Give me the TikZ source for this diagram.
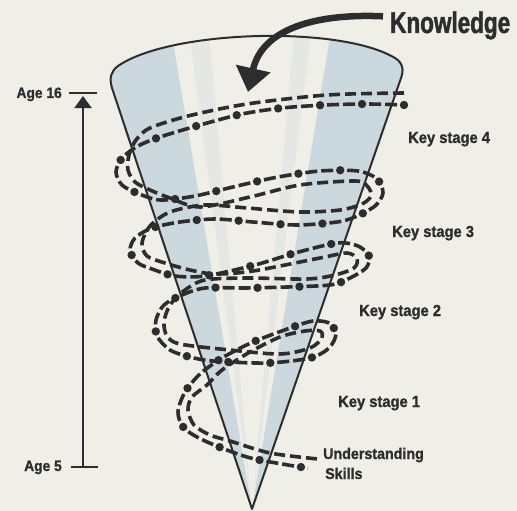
\documentclass[tikz,border=0pt]{standalone}
\usepackage{fontspec}
\newfontfamily\labfont{Liberation Sans Bold}[FakeStretch=0.92,FakeBold=1.2]
\newfontfamily\knowfont{Liberation Sans Bold}[FakeStretch=0.75,FakeBold=1.5]
\usetikzlibrary{arrows.meta}

\definecolor{paper}{RGB}{239,239,232}
\definecolor{ink}{RGB}{45,45,45}
\definecolor{tint}{RGB}{203,216,221}
\definecolor{faint}{RGB}{229,231,228}

\begin{document}
\begin{tikzpicture}[x=1pt,y=-1pt,>={Triangle[width=17pt,length=12pt]},line join=round]
  \tikzstyle{lab}=[inner sep=0pt,text=ink,font=\labfont\fontsize{16}{18}\selectfont]
  \tikzstyle{dashline}=[draw=ink,line width=3.6pt,dash pattern=on 11pt off 5pt]
  \tikzstyle{dotline}=[draw=ink,line width=3.6pt,dash pattern=on 12pt off 4pt on 12pt off 14pt,dash phase=35pt,
    postaction={draw=ink,line width=8.4pt,line cap=round,dash pattern=on 0pt off 42pt,dash phase=0pt}]
\useasboundingbox (0,0) rectangle (517,511);
\fill[paper] (0,0) rectangle (517,511);
% cone with its tinted bands
\begin{scope}
  \clip (252,509) -- (112,88) .. controls (109,78) and (111,71) .. (118,66)
    .. controls (170,30) and (340,25) .. (395,58) .. controls (403,63) and (404,70) .. (401,78) -- cycle;
  \fill[tint] (252,509) -- (166,0) -- (60,0) -- cycle;
  \fill[tint] (252,509) -- (336,0) -- (450,0) -- cycle;
  \fill[faint] (252,509) -- (185,0) -- (206,0) -- cycle;
  \fill[faint] (252,509) -- (297,0) -- (315,0) -- cycle;
\end{scope}
\draw[ink,line width=2pt] (252,509) -- (112,88) .. controls (109,78) and (111,71) .. (118,66)
    .. controls (170,30) and (340,25) .. (395,58) .. controls (403,63) and (404,70) .. (401,78) -- cycle;
% spiral ribbon
\draw[dotline] plot[smooth] coordinates {(404,105) (367,104) (325,105) (282,108) (242,114) (200,125) (160,137)
  (138,146) (122,158) (116,172) (122,185) (137,193)
  (160,200) (195,196) (237,186) (278,177) (320,171) (358,171)
  (377,179) (383,193) (375,206) (355,217)
  (337,222) (297,225) (253,222) (215,219)
  (180,222) (152,228) (135,238) (130,251) (138,263) (152,269)
  (175,276) (205,276) (255,265) (295,253) (337,243) (358,246)
  (369,256) (366,268) (348,279)
  (330,285) (287,287) (245,288) (205,288)
  (182,295) (164,305) (156,320) (157,336) (170,350)
  (190,357) (213,361) (267,363) (310,358)
  (329,348) (336,334) (329,323) (313,321)
  (293,327) (253,342) (222,358) (200,374)
  (185,392) (178,412) (184,428) (205,441)
  (247,457) (288,465) (308,468)};
\draw[dashline] plot[smooth] coordinates {(404,93) (327,95) (247,104) (188,116) (150,128)
  (136,140) (129,155) (128,170) (135,182) (150,190)
  (170,198) (200,207) (250,197) (300,185) (356,181)
  (368,187) (371,196) (362,204)
  (340,210) (300,212) (247,208) (205,205)
  (170,212) (150,226) (142,243) (147,256) (165,263)
  (190,270) (215,274) (253,271) (320,258) (347,253)
  (357,259) (354,268) (335,275)
  (307,279) (247,278) (205,280)
  (185,290) (170,305) (164,322) (167,336) (180,344)
  (230,350) (280,354) (310,348)
  (322,338) (320,331) (305,331)
  (280,337) (250,352) (222,370) (207,385)
  (192,397) (188,410) (194,425) (210,435)
  (230,441) (270,453) (318,459)};
% labels
\node[inner sep=0pt,text=ink,anchor=base west,font=\knowfont\fontsize{30}{32}\selectfont] (know) at (390,33) {Knowledge};
\coordinate (kaim) at (248,92);
\draw[ink,line width=6.5pt,-{Triangle[width=34pt,length=24pt]}] ([xshift=-7pt,yshift=9pt]know.west)
  .. controls +(-68,-3) and +(14,-63) .. (kaim);
\node[lab,anchor=base west] (ks4) at (408,143) {Key stage 4};
\node[lab,anchor=base west] (ks3) at (392,237) {Key stage 3};
\node[lab,anchor=base west] (ks2) at (359,316) {Key stage 2};
\node[lab,anchor=base west] (ks1) at (338,407) {Key stage 1};
\node[lab,anchor=base west,font=\labfont\fontsize{15.5}{17}\selectfont] (under) at (323,459) {Understanding};
\node[lab,anchor=base west,font=\labfont\fontsize{15.5}{17}\selectfont] (skills) at (325,479) {Skills};
% age scale
\node[lab,anchor=base east,font=\labfont\fontsize{15}{17}\selectfont] (age16) at (62,98) {Age 16};
\node[lab,anchor=base east,font=\labfont\fontsize{15}{17}\selectfont] (age5) at (62,471) {Age 5};
\coordinate (agetop) at (83,96);
\coordinate (agebot) at (83,467);
\draw[ink,line width=2pt] (agetop) ++(-14,-3) -- ++(28,0);
\draw[ink,line width=2pt] (agebot) ++(-12,0) -- ++(27,0);
\draw[->,ink,line width=2pt] (agebot) -- (agetop);
\end{tikzpicture}
\end{document}
